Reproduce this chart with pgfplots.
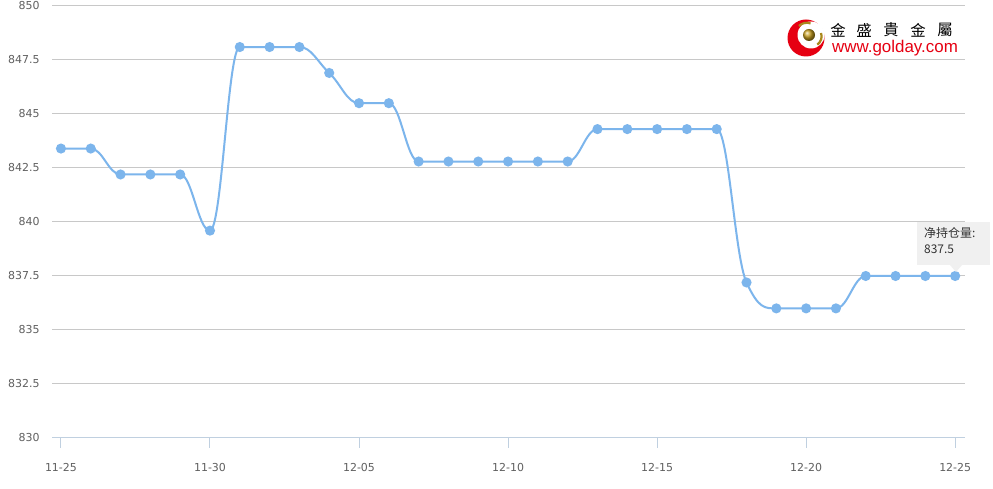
\documentclass[border=0pt]{standalone}
\usepackage{pgfplots}
\pgfplotsset{compat=1.18}
\usepackage{fontspec}
\setmainfont{DejaVu Sans}
\newfontfamily\cjk{Noto Sans CJK SC}
\newfontfamily\cjktc{Noto Sans CJK TC}
\newfontfamily\lib{Liberation Sans}
\definecolor{linec}{HTML}{7CB5EC}
\definecolor{gridc}{HTML}{C8C8C8}
\definecolor{axc}{HTML}{C0D0E0}
\definecolor{lab}{HTML}{606060}
\definecolor{logored}{HTML}{E60012}
\definecolor{gold}{HTML}{C8A020}
% spline plot handler with flattened control points at extremes (no overshoot)
\makeatletter
\newcount\hc@n \newcount\hc@i
\def\hc@start{\global\hc@n=0\relax}
\def\hc@point#1{%
  \pgf@process{#1}%
  \global\advance\hc@n by 1\relax
  \expandafter\xdef\csname hc@x@\the\hc@n\endcsname{\pgf@sys@tonumber\pgf@x}%
  \expandafter\xdef\csname hc@y@\the\hc@n\endcsname{\pgf@sys@tonumber\pgf@y}%
}
\def\hc@get#1#2{\csname hc@#1@\the\numexpr#2\relax\endcsname}
\def\hc@comp{%
  \ifnum\hc@i>\hc@n\else
    \edef\hc@X{\hc@get{x}{\hc@i}}\edef\hc@Y{\hc@get{y}{\hc@i}}%
    \ifnum\hc@i=1
      \let\hc@lcx\hc@X\let\hc@lcy\hc@Y\let\hc@rcx\hc@X\let\hc@rcy\hc@Y
    \else\ifnum\hc@i=\hc@n
      \let\hc@lcx\hc@X\let\hc@lcy\hc@Y\let\hc@rcx\hc@X\let\hc@rcy\hc@Y
    \else
      \edef\hc@LX{\hc@get{x}{\hc@i-1}}\edef\hc@LY{\hc@get{y}{\hc@i-1}}%
      \edef\hc@NX{\hc@get{x}{\hc@i+1}}\edef\hc@NY{\hc@get{y}{\hc@i+1}}%
      \pgfmathsetmacro\hc@lcx{(1.5*\hc@X+\hc@LX)/2.5}%
      \pgfmathsetmacro\hc@lcy{(1.5*\hc@Y+\hc@LY)/2.5}%
      \pgfmathsetmacro\hc@rcx{(1.5*\hc@X+\hc@NX)/2.5}%
      \pgfmathsetmacro\hc@rcy{(1.5*\hc@Y+\hc@NY)/2.5}%
      \pgfmathsetmacro\hc@corr{(\hc@rcy-\hc@lcy)*(\hc@rcx-\hc@X)/(\hc@rcx-\hc@lcx)+\hc@Y-\hc@rcy}%
      \pgfmathsetmacro\hc@lcy{\hc@lcy+\hc@corr}%
      \pgfmathsetmacro\hc@rcy{\hc@rcy+\hc@corr}%
      \pgfmathtruncatemacro\hc@ta{(\hc@lcy>\hc@LY+0.001)&&(\hc@lcy>\hc@Y+0.001)}%
      \pgfmathtruncatemacro\hc@tb{(\hc@lcy<\hc@LY-0.001)&&(\hc@lcy<\hc@Y-0.001)}%
      \ifnum\hc@ta=1
        \pgfmathsetmacro\hc@lcy{max(\hc@LY,\hc@Y)}%
        \pgfmathsetmacro\hc@rcy{2*\hc@Y-\hc@lcy}%
      \fi
      \ifnum\hc@tb=1
        \pgfmathsetmacro\hc@lcy{min(\hc@LY,\hc@Y)}%
        \pgfmathsetmacro\hc@rcy{2*\hc@Y-\hc@lcy}%
      \fi
      \pgfmathtruncatemacro\hc@ta{(\hc@rcy>\hc@NY+0.001)&&(\hc@rcy>\hc@Y+0.001)}%
      \pgfmathtruncatemacro\hc@tb{(\hc@rcy<\hc@NY-0.001)&&(\hc@rcy<\hc@Y-0.001)}%
      \ifnum\hc@ta=1
        \pgfmathsetmacro\hc@rcy{max(\hc@NY,\hc@Y)}%
        \pgfmathsetmacro\hc@lcy{2*\hc@Y-\hc@rcy}%
      \fi
      \ifnum\hc@tb=1
        \pgfmathsetmacro\hc@rcy{min(\hc@NY,\hc@Y)}%
        \pgfmathsetmacro\hc@lcy{2*\hc@Y-\hc@rcy}%
      \fi
    \fi\fi
    \expandafter\xdef\csname hc@lcx@\the\hc@i\endcsname{\hc@lcx}%
    \expandafter\xdef\csname hc@lcy@\the\hc@i\endcsname{\hc@lcy}%
    \expandafter\xdef\csname hc@rcx@\the\hc@i\endcsname{\hc@rcx}%
    \expandafter\xdef\csname hc@rcy@\the\hc@i\endcsname{\hc@rcy}%
    \advance\hc@i by 1\relax
    \expandafter\hc@comp
  \fi
}
\def\hc@draw{%
  \ifnum\hc@i>\hc@n\else
    \pgfpathcurveto
      {\pgfqpoint{\hc@get{rcx}{\hc@i-1}pt}{\hc@get{rcy}{\hc@i-1}pt}}%
      {\pgfqpoint{\hc@get{lcx}{\hc@i}pt}{\hc@get{lcy}{\hc@i}pt}}%
      {\pgfqpoint{\hc@get{x}{\hc@i}pt}{\hc@get{y}{\hc@i}pt}}%
    \advance\hc@i by 1\relax
    \expandafter\hc@draw
  \fi
}
\def\hc@end{%
  \ifnum\hc@n>0
    \hc@i=1\relax
    \hc@comp
    \pgfpathmoveto{\pgfqpoint{\hc@get{x}{1}pt}{\hc@get{y}{1}pt}}%
    \hc@i=2\relax
    \hc@draw
  \fi
}
\pgfdeclareplothandler{\pgfplothandlerhcspline}{}{%
  start=\hc@start,
  end=\hc@end,
  point macro=\hc@point,
}
\tikzset{hc spline/.code={\let\tikz@plot@handler=\pgfplothandlerhcspline}}
\makeatother
\begin{document}
\begin{tikzpicture}[x=1bp,y=1bp]
\useasboundingbox[fill=white] (0,0) rectangle (993,489);
\begin{axis}[at={(52bp,51bp)}, anchor=south west, scale only axis,
  width=913bp, height=432bp,
  xmin=-0.3, xmax=30.33, ymin=830, ymax=850,
  axis x line*=bottom, axis y line*=left,
  x axis line style={draw=axc, line width=1bp, -},
  y axis line style={draw=none},
  xtick={0,5,...,30},
  xticklabels={11-25,11-30,12-05,12-10,12-15,12-20,12-25},
  ytick={830,832.5,835,837.5,840,842.5,845,847.5,850},
  yticklabels={830,832.5,835,837.5,840,842.5,845,847.5,850},
  xtick align=outside, major tick length=10bp,
  xtick style={draw=axc, line width=1bp},
  ytick style={draw=none},
  ymajorgrids, grid style={draw=gridc, line width=1bp},
  tick label style={font=\fontsize{11}{13}\selectfont, text=lab},
  yticklabel style={xshift=-9bp},
  xticklabel style={yshift=-12bp},
  clip=false,
]
\addplot[linec, line width=2bp, hc spline, mark=*, mark size=4bp,
  mark options={fill=linec, draw=none}] coordinates {
(0,843.4) (1,843.4) (2,842.2) (3,842.2) (4,842.2) (5,839.6)
(6,848.1) (7,848.1) (8,848.1) (9,846.9) (10,845.5) (11,845.5)
(12,842.8) (13,842.8) (14,842.8) (15,842.8) (16,842.8) (17,842.8)
(18,844.3) (19,844.3) (20,844.3) (21,844.3) (22,844.3)
(23,837.2) (24,836.0) (25,836.0) (26,836.0)
(27,837.5) (28,837.5) (29,837.5) (30,837.5)
};
\end{axis}
% logo
\fill[logored] (806,451) circle (18.5);
\fill[white] (811,454) circle (13.5);
\draw[gold!85!black, line width=2.2bp] (799,463) arc (135:70:11);
\draw[gold!85!black, line width=2.2bp] (821,456) arc (20:-55:10);
\shade[ball color=gold] (809,454) circle (6);
\foreach \c/\xx in {金/838,盛/864,貴/891,金/918,屬/945}{
  \node[font=\cjktc\fontsize{15.5}{15.5}\selectfont, text=black, inner sep=0pt] at (\xx,459) {\c};
}
\node[font=\lib\fontsize{17}{17}\selectfont, text=logored, inner sep=0pt] at (895,440.5) {www.golday.com};
% tooltip
\fill[black!6] (917,224) rectangle (990,267);
\fill[black!6] (950,224) -- (956,217) -- (962,224) -- cycle;
\node[anchor=west, font=\cjk\fontsize{12}{12}\selectfont, text=black!80, inner sep=0pt] at (924,256) {净持仓量:};
\node[anchor=west, font=\cjk\fontsize{12}{12}\selectfont, text=black!80, inner sep=0pt] at (924,240) {837.5};
\end{tikzpicture}
\end{document}
